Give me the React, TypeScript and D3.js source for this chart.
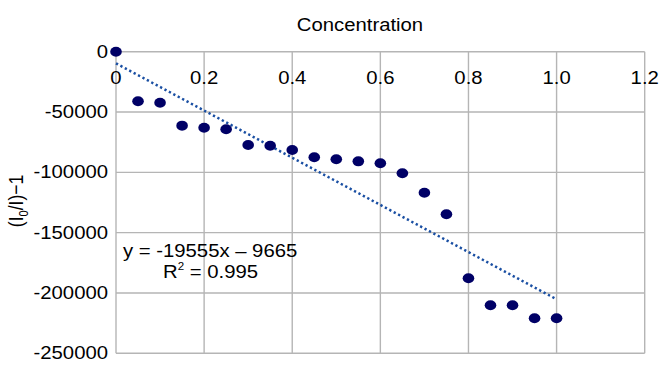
import { useEffect, useRef } from 'react'
import * as d3 from 'd3'

// concentration values and measured (I0/I)-1
const concentrations = [0, 0.05, 0.1, 0.15, 0.2, 0.25, 0.3, 0.35, 0.4, 0.45, 0.5, 0.55, 0.6, 0.65, 0.7, 0.75, 0.8, 0.85, 0.9, 0.95, 1.0]
const responses = [0, -41100, -42300, -61300, -63000, -64300, -77300, -77900, -81500, -87500, -89200, -90900, -92500, -100800, -116900, -134800, -187800, -210200, -210200, -221000, -221000]

const xTicks = [0, 0.2, 0.4, 0.6, 0.8, 1.0, 1.2]
const yTicks = [0, -50000, -100000, -150000, -200000, -250000]

// linear trend line shown on the chart
const trendSlope = -195550
const trendIntercept = -9665
const trendRange = [0, 1.0]

const equationText = 'y = -19555x \u2013 9665'
const r2Value = '0.995'

export default function App() {
  const svgRef = useRef<SVGSVGElement>(null)

  useEffect(() => {
    if (!svgRef.current) return
    const svg = d3.select(svgRef.current)
    svg.selectAll('*').remove()

    const font = '"Liberation Sans", Arial, Helvetica, sans-serif'
    const stretch = 1.16
    const size = 17.5
    const ink = '#000'
    const grid = '#b5b5b5'

    const x = d3.scaleLinear().domain([0, 1.2]).range([116, 644.7])
    const y = d3.scaleLinear().domain([-250000, 0]).range([353.3, 51.7])

    // gridlines
    svg.append('g')
      .selectAll('line')
      .data(xTicks)
      .join('line')
      .attr('x1', d => x(d)).attr('x2', d => x(d))
      .attr('y1', y(0)).attr('y2', y(-250000))
      .attr('stroke', grid)
      .attr('stroke-width', 1.4)

    svg.append('g')
      .selectAll('line')
      .data(yTicks)
      .join('line')
      .attr('x1', x(0)).attr('x2', x(1.2))
      .attr('y1', d => y(d)).attr('y2', d => y(d))
      .attr('stroke', grid)
      .attr('stroke-width', 1.4)

    // tick labels
    svg.append('g')
      .selectAll('text')
      .data(xTicks)
      .join('text')
      .attr('transform', d => `translate(${x(d)},84) scale(${stretch},1)`)
      .attr('text-anchor', 'middle')
      .attr('font-family', font)
      .attr('font-size', size)
      .attr('fill', ink)
      .text(d => (d === 0 ? '0' : d.toFixed(1)))

    svg.append('g')
      .selectAll('text')
      .data(yTicks)
      .join('text')
      .attr('transform', d => `translate(108,${y(d) + 6}) scale(${stretch},1)`)
      .attr('text-anchor', 'end')
      .attr('font-family', font)
      .attr('font-size', size)
      .attr('fill', ink)
      .text(d => String(d))

    // title
    svg.append('text')
      .attr('transform', `translate(360,31) scale(${stretch},1)`)
      .attr('text-anchor', 'middle')
      .attr('font-family', font)
      .attr('font-size', size)
      .attr('fill', ink)
      .text('Concentration')

    // y axis title
    const yTitle = svg.append('text')
      .attr('transform', `translate(23,201) rotate(-90) scale(1,${stretch})`)
      .attr('text-anchor', 'middle')
      .attr('font-family', font)
      .attr('font-size', size)
      .attr('fill', ink)
    yTitle.append('tspan').text('(I')
    yTitle.append('tspan').attr('font-size', 11).attr('dy', 4).text('0')
    yTitle.append('tspan').attr('dy', -4).text('/I)\u22121')

    // trend line
    const line = d3.line<number>()
      .x(d => x(d))
      .y(d => y(trendSlope * d + trendIntercept))
    svg.append('path')
      .datum(trendRange)
      .attr('d', line)
      .attr('fill', 'none')
      .attr('stroke', '#1a4fa3')
      .attr('stroke-width', 2.5)
      .attr('stroke-dasharray', '2.3,2.7')

    // data points
    svg.append('g')
      .selectAll('ellipse')
      .data(concentrations)
      .join('ellipse')
      .attr('cx', d => x(d))
      .attr('cy', (_d, i) => y(responses[i]))
      .attr('rx', 5.8)
      .attr('ry', 5)
      .attr('fill', '#000066')

    // equation
    svg.append('text')
      .attr('transform', `translate(123,257) scale(${stretch},1)`)
      .attr('font-family', font)
      .attr('font-size', size)
      .attr('fill', ink)
      .text(equationText)

    const r2 = svg.append('text')
      .attr('transform', `translate(163,278) scale(${stretch},1)`)
      .attr('font-family', font)
      .attr('font-size', size)
      .attr('fill', ink)
    r2.append('tspan').text('R')
    r2.append('tspan').attr('font-size', 10).attr('dy', -8).text('2')
    r2.append('tspan').attr('dy', 8).text(' = ' + r2Value)
  }, [])

  return (
    <svg
      ref={svgRef}
      width={662}
      height={365}
      style={{ position: 'absolute', left: 0, top: 0, background: '#fff' }}
    />
  )
}
